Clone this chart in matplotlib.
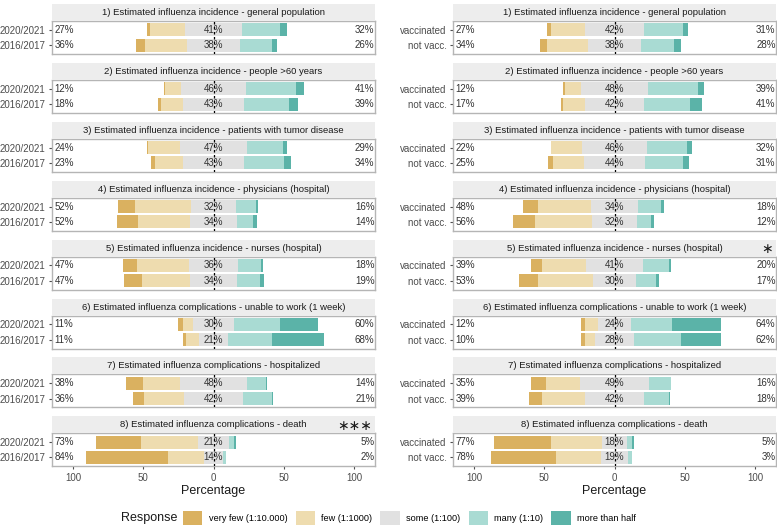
import matplotlib.pyplot as plt
from matplotlib.patches import Patch

plt.rcParams['font.family'] = ['Liberation Sans', 'DejaVu Sans']

titles = ['1) Estimated influenza incidence - general population',
          '2) Estimated influenza incidence - people >60 years',
          '3) Estimated influenza incidence - patients with tumor disease',
          '4) Estimated influenza incidence - physicians (hospital)',
          '5) Estimated influenza incidence - nurses (hospital)',
          '6) Estimated influenza complications - unable to work (1 week)',
          '7) Estimated influenza complications - hospitalized',
          '8) Estimated influenza complications - death']
years = ['2020/2021', '2016/2017']
groups = ['vaccinated', 'not vacc.']
responses = ['very few (1:10.000)', 'few (1:1000)', 'some (1:100)', 'many (1:10)', 'more than half']
colors = ['#DAB160', '#EEDCAF', '#E1E1E1', '#A9DBD3', '#5BB3A8']

# survey years, each pair = (2020/2021, 2016/2017), in percent
yr_very_few = [[2, 6], [1.2, 2], [1, 3], [12, 15], [10, 13], [4, 2], [12, 8], [32.4, 58.8]]
yr_few = [[25, 30], [11, 16], [23, 20], [40, 37], [36.6, 34], [6.6, 9], [26, 28.2], [40.8, 25.2]]
yr_some = [[41, 38], [46.4, 43], [47, 43], [32, 34], [35.6, 34], [29.6, 21], [48, 42.4], [21.4, 14]]
yr_many = [[27, 23], [35.2, 32], [26, 29], [14, 11], [16.2, 16], [32.2, 31], [13.4, 20.4], [4.2, 2]]
yr_more = [[5, 3], [5.8, 7], [3, 5], [2, 3], [1.6, 3], [27.6, 37], [0.6, 1], [1.2, 0]]
yr_stars = ['', '', '', '', '', '', '', '∗∗∗']

# vaccination status, each pair = (vaccinated, not vacc.)
vac_very_few = [[3, 5], [1.2, 1.2], [0, 3.4], [10.5, 15.6], [8.4, 14], [3, 3], [11, 9], [40.4, 46.2]]
vac_few = [[24, 29], [11, 15.8], [22, 21.8], [37.5, 40.6], [30.8, 39.2], [9, 7], [24, 30.4], [36.4, 32]]
vac_some = [[42, 38], [48.4, 42], [46, 44], [34, 31.6], [41, 30], [24, 28], [49, 42.4], [18.2, 19]]
vac_many = [[28, 23.5], [35, 32.6], [28.4, 27], [16, 10], [18, 14.6], [29, 33.5], [16, 17.6], [3.6, 2.8]]
vac_more = [[3, 4.5], [4.4, 8.4], [3.6, 3.8], [2, 2.2], [1.8, 2.2], [35, 28.5], [0, 0.6], [1.4, 0]]
vac_stars = ['', '', '', '', '∗', '', '', '']

W, H = 777, 530
fig = plt.figure(figsize=(W / 100, H / 100), dpi=100)

PW = 323
XL = (-115, 115)


def draw_side(x0, rows, vf, fw, so, ma, mo, stars):
    for i in range(8):
        top = 21 + 58.9 * i
        ax = fig.add_axes([x0 / W, 1 - (top + 33) / H, PW / W, 33 / H])
        sax = fig.add_axes([x0 / W, 1 - top / H, PW / W, 17 / H])
        sax.set_facecolor('#EDEDED')
        sax.set_xticks([])
        sax.set_yticks([])
        for s in sax.spines.values():
            s.set_visible(False)
        sax.text(0.5, 0.5, titles[i], ha='center', va='center', fontsize=6.8, color='#1A1A1A',
                 transform=sax.transAxes)
        if stars[i]:
            sax.text(0.99, 0.45, stars[i], ha='right', va='center', fontsize=10, color='#1A1A1A',
                     family='DejaVu Sans', transform=sax.transAxes)

        for j, y in enumerate([1, 0]):
            a, b, c, d, e = vf[i][j], fw[i][j], so[i][j], ma[i][j], mo[i][j]
            lefts = [-(c / 2 + b + a), -(c / 2 + b), -c / 2, c / 2, c / 2 + d]
            for k, (l, w) in enumerate(zip(lefts, [a, b, c, d, e])):
                ax.barh(y, w, left=l, height=0.85, color=colors[k], linewidth=0)
            ax.text(XL[0] + 2, y, '%d%%' % round(a + b), ha='left', va='center', fontsize=7, color='#333333')
            ax.text(0, y, '%d%%' % round(c), ha='center', va='center', fontsize=7, color='#333333')
            ax.text(XL[1] - 0.3, y, '%d%%' % round(d + e), ha='right', va='center', fontsize=7, color='#333333')

        ax.axvline(0, color='black', lw=0.9, ls=(0, (2, 2)), zorder=5)
        ax.set_xlim(XL)
        ax.set_ylim(-0.58, 1.58)
        ax.set_yticks([1, 0])
        ax.set_yticklabels(rows)
        ax.tick_params(axis='y', length=2.5, color='#4D4D4D', labelcolor='#4D4D4D', labelsize=7, pad=2)
        for s in ax.spines.values():
            s.set_color('#B5B5B5')
            s.set_linewidth(1)
        if i == 7:
            ax.set_xticks([-100, -50, 0, 50, 100])
            ax.set_xticklabels(['100', '50', '0', '50', '100'])
            ax.tick_params(axis='x', length=2.5, color='#4D4D4D', labelcolor='#4D4D4D', labelsize=7, pad=2)
            ax.set_xlabel('Percentage', fontsize=9, color='#1A1A1A', labelpad=2)
        else:
            ax.set_xticks([])


draw_side(52, years, yr_very_few, yr_few, yr_some, yr_many, yr_more, yr_stars)
draw_side(453, groups, vac_very_few, vac_few, vac_some, vac_many, vac_more, vac_stars)

handles = [Patch(facecolor=c, edgecolor='none') for c in colors]
fig.legend(handles, responses, loc='center left', bbox_to_anchor=(183 / W, 1 - 518 / H), ncol=5,
           frameon=False, fontsize=6.6, handlelength=2.1, handleheight=2.1, handletextpad=0.7,
           columnspacing=0.9, borderpad=0, borderaxespad=0)
fig.text(177 / W, 1 - 518 / H, 'Response', ha='right', va='center', fontsize=9, color='#1A1A1A')

fig.savefig('out.png', dpi=100)
